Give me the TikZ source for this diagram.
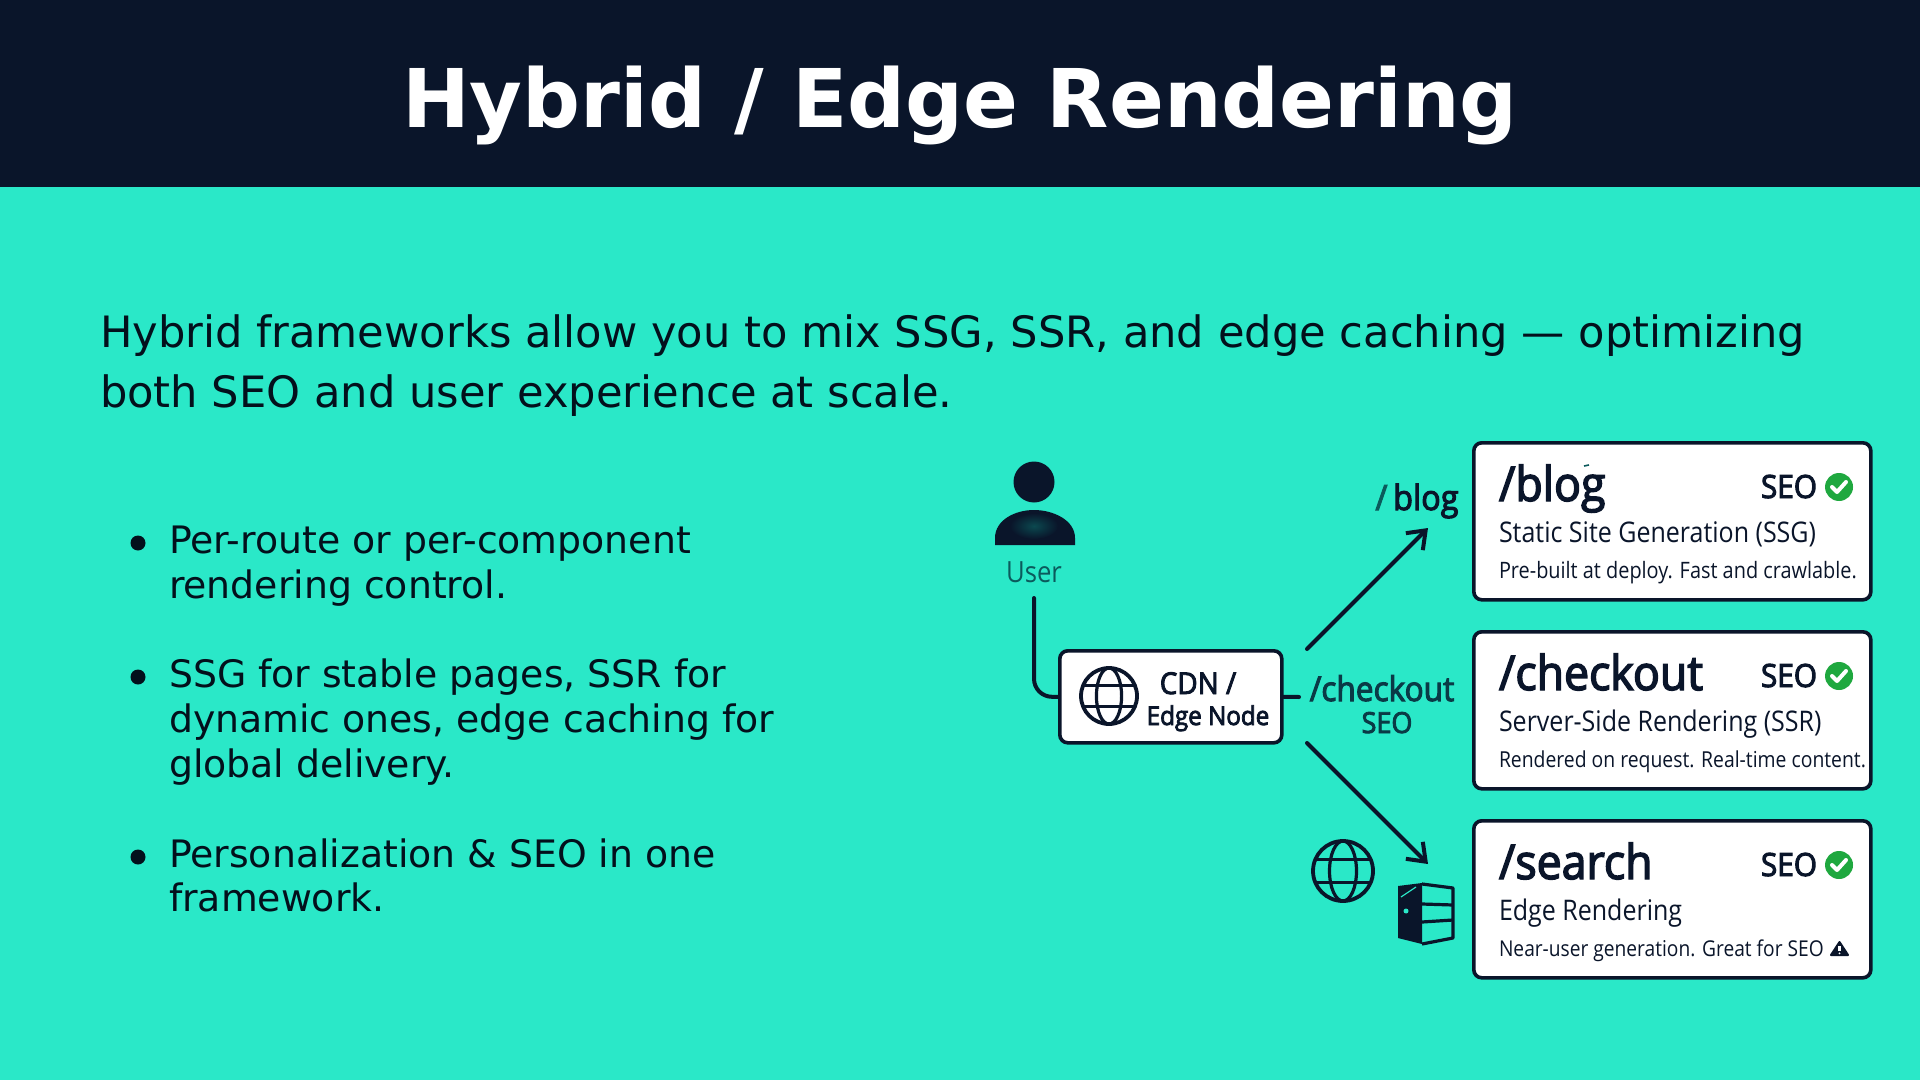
\documentclass[tikz,border=0pt]{standalone}
\usepackage{fontspec}
\usetikzlibrary{arrows.meta}
\setmainfont{DejaVu Sans}
\newfontfamily\diag[FakeStretch=0.88]{Open Sans}
\newfontfamily\diagm[FakeStretch=0.93,FakeBold=3]{Open Sans}
\definecolor{navy}{HTML}{0A152A}
\definecolor{ink}{HTML}{03101C}
\definecolor{mint}{HTML}{2AE8C8}
\definecolor{dteal}{HTML}{0B5A5C}
\definecolor{routeink}{HTML}{0A3A46}
\definecolor{okgreen}{HTML}{1FA83F}
\newcommand{\fs}[1]{\fontsize{#1}{#1}\selectfont}
\tikzset{
  px/.style={x=0.5pt,y=-0.5pt},
  txt/.style={inner sep=0pt,outer sep=0pt,anchor=base west,text=navy},
  titletxt/.style={inner sep=0pt,anchor=base,text=white,font=\fs{40.5}\bfseries},
  intro/.style={txt,text=ink,font=\fs{21.6}},
  bullet/.style={txt,text=ink,font=\fs{18.9}},
  dot/.style={circle,fill=ink,inner sep=0pt,minimum size=7.5pt},
  card/.style={draw=navy,line width=1.8pt,fill=white,rounded corners=4pt,inner sep=0pt,anchor=north west,minimum width=198.5pt,minimum height=78.5pt},
  edgebox/.style={draw=navy,line width=1.8pt,fill=white,rounded corners=4pt,inner sep=0pt,anchor=north west,minimum width=111pt,minimum height=46pt},
  cardhead/.style={txt,font=\diagm\fs{24}},
  cardsub/.style={txt,font=\diag\fs{14.2}},
  carddesc/.style={txt,font=\diag\fs{11}},
  seotag/.style={txt,anchor=base east,font=\diagm\fs{16}},
  routelbl/.style={inner sep=0pt,anchor=base,text=navy,font=\diagm\fs{17.4}},
  link/.style={draw=navy,line width=2pt,line cap=round},
  arrowlink/.style={link,-{Straight Barb[length=8pt,width=12pt,line width=2pt]}},
  globe/.pic={
    \draw[navy,line width=1.9pt] (0,0) circle (1);
    \draw[navy,line width=1.6pt] (0,0) ellipse (0.45 and 1);
    \draw[navy,line width=1.6pt] (-0.92,-0.38) -- (0.92,-0.38);
    \draw[navy,line width=1.6pt] (-0.92,0.38) -- (0.92,0.38);
  },
  tick/.pic={
    \fill[okgreen] (0,0) circle (14);
    \draw[white,line width=2pt,line cap=round,line join=round] (-7,0) -- (-2,5) -- (7,-5);
  }
}
\begin{document}
\begin{tikzpicture}[px]
\useasboundingbox (0,0) rectangle (1920,1080);
\fill[mint] (0,0) rectangle (1920,1080);
\fill[navy] (0,0) rectangle (1920,187);
\node[titletxt] (title) at (960,128) {Hybrid / Edge Rendering};
\node[intro] (intro1) at (100,348) {Hybrid frameworks allow you to mix SSG, SSR, and edge caching — optimizing};
\node[intro] (intro2) at (100,407) {both SEO and user experience at scale.};
\node[dot] (d1) at (138,543) {};
\node[bullet] (b1a) at (169,553) {Per-route or per-component};
\node[bullet] (b1b) at (169,598) {rendering control.};
\node[dot] (d2) at (138,677) {};
\node[bullet] (b2a) at (169,687) {SSG for stable pages, SSR for};
\node[bullet] (b2b) at (169,732) {dynamic ones, edge caching for};
\node[bullet] (b2c) at (169,777) {global delivery.};
\node[dot] (d3) at (138,857) {};
\node[bullet] (b3a) at (169,867) {Personalization \& SEO in one};
\node[bullet] (b3b) at (169,911) {framework.};
% user
\fill[navy] (1034,482) circle (20.5);
\fill[navy] (995,545) -- (995,538) .. controls (995,520) and (1015,510) .. (1034,510) .. controls (1053,510) and (1075,520) .. (1075,538) -- (1075,545) -- cycle;
\shade[inner color=dteal!75!navy,outer color=navy] (1034,526) ellipse (24 and 13);
\node[inner sep=0pt,anchor=base,text=dteal,font=\diag\fs{14.6}] (userlbl) at (1034,582) {User};
% cdn
\node[edgebox] (cdn) at (1058,649) {};
\pic[xscale=28,yscale=28] (g1) at (1109,696) {globe};
\node[inner sep=0pt,anchor=base,text=navy,font=\diagm\fs{15}] (cdn1) at (1198,694) {CDN /};
\node[inner sep=0pt,anchor=base,text=navy,font=\diagm\fs{13}] (cdn2) at (1208,725) {Edge Node};
\coordinate (ustart) at (1034,598);
\coordinate (stubend) at (1299,697);
\coordinate (upstart) at (1307,649);
\coordinate (uptip) at (1428,528);
\coordinate (dnstart) at (1307,743);
\coordinate (dntip) at (1428,864);
\draw[link,rounded corners=9pt] (ustart) |- (cdn.west);
\draw[link] (cdn.east) -- (stubend);
\draw[arrowlink] (upstart) -- (uptip);
\draw[arrowlink] (dnstart) -- (dntip);
\node[routelbl] (rblog) at (1417,510) {{\color{dteal}/}\,blog};
\node[routelbl,text=routeink,font=\diagm\fs{17}] (rcheck) at (1382,701) {/checkout};
\node[routelbl,text=routeink,font=\diagm\fs{14.5}] (rseo) at (1387,733) {SEO};
\pic[xscale=30,yscale=30] (g2) at (1343,871) {globe};
% server
\fill[navy] (1398,886) -- (1422,883) -- (1422,944) -- (1398,938) -- cycle;
\draw[navy,line width=1.6pt,line join=round] (1422,884) -- (1453,888) -- (1453,938) -- (1422,944);
\draw[navy,line width=1.6pt] (1422,904) -- (1453,905);
\draw[navy,line width=1.6pt] (1422,922) -- (1453,920);
\draw[mint,line width=0.6pt] (1401,897) -- (1416,887);
\fill[mint] (1406,911) circle (2.5);
% cards
\node[card] (c1) at (1472,441) {};
\node[card] (c2) at (1472,630) {};
\node[card] (c3) at (1472,819) {};
\node[cardhead] (h1) at (1499,501) {/blog};
\draw[dteal,line width=0.8pt] (1584,466) -- (1589,465);
\node[cardsub] (s1) at (1499,542) {Static Site Generation (SSG)};
\node[carddesc,font=\diag\fs{11.3}] (x1) at (1499,578) {Pre-built at deploy. Fast and crawlable.};
\node[seotag] (t1) at (1817,498) {SEO};
\pic (k1) at (1839,487) {tick};
\node[cardhead] (h2) at (1499,690) {/checkout};
\node[cardsub] (s2) at (1499,731) {Server-Side Rendering (SSR)};
\node[carddesc] (x2) at (1499,767) {Rendered on request. Real-time content.};
\node[seotag] (t2) at (1817,687) {SEO};
\pic (k2) at (1839,676) {tick};
\node[cardhead] (h3) at (1499,879) {/search};
\node[cardsub] (s3) at (1499,920) {Edge Rendering};
\node[carddesc,font=\diag\fs{10.9}] (x3) at (1499,956) {Near-user generation. Great for SEO};
\node[seotag] (t3) at (1817,876) {SEO};
\pic (k3) at (1839,865) {tick};
% warning
\fill[navy,line join=round,draw=navy,line width=1pt] (1839.5,942) -- (1848,955) -- (1831,955) -- cycle;
\draw[white,line width=1.1pt] (1839.5,946) -- (1839.5,951);
\fill[white] (1839.5,953.3) circle (1);
\end{tikzpicture}
\end{document}
